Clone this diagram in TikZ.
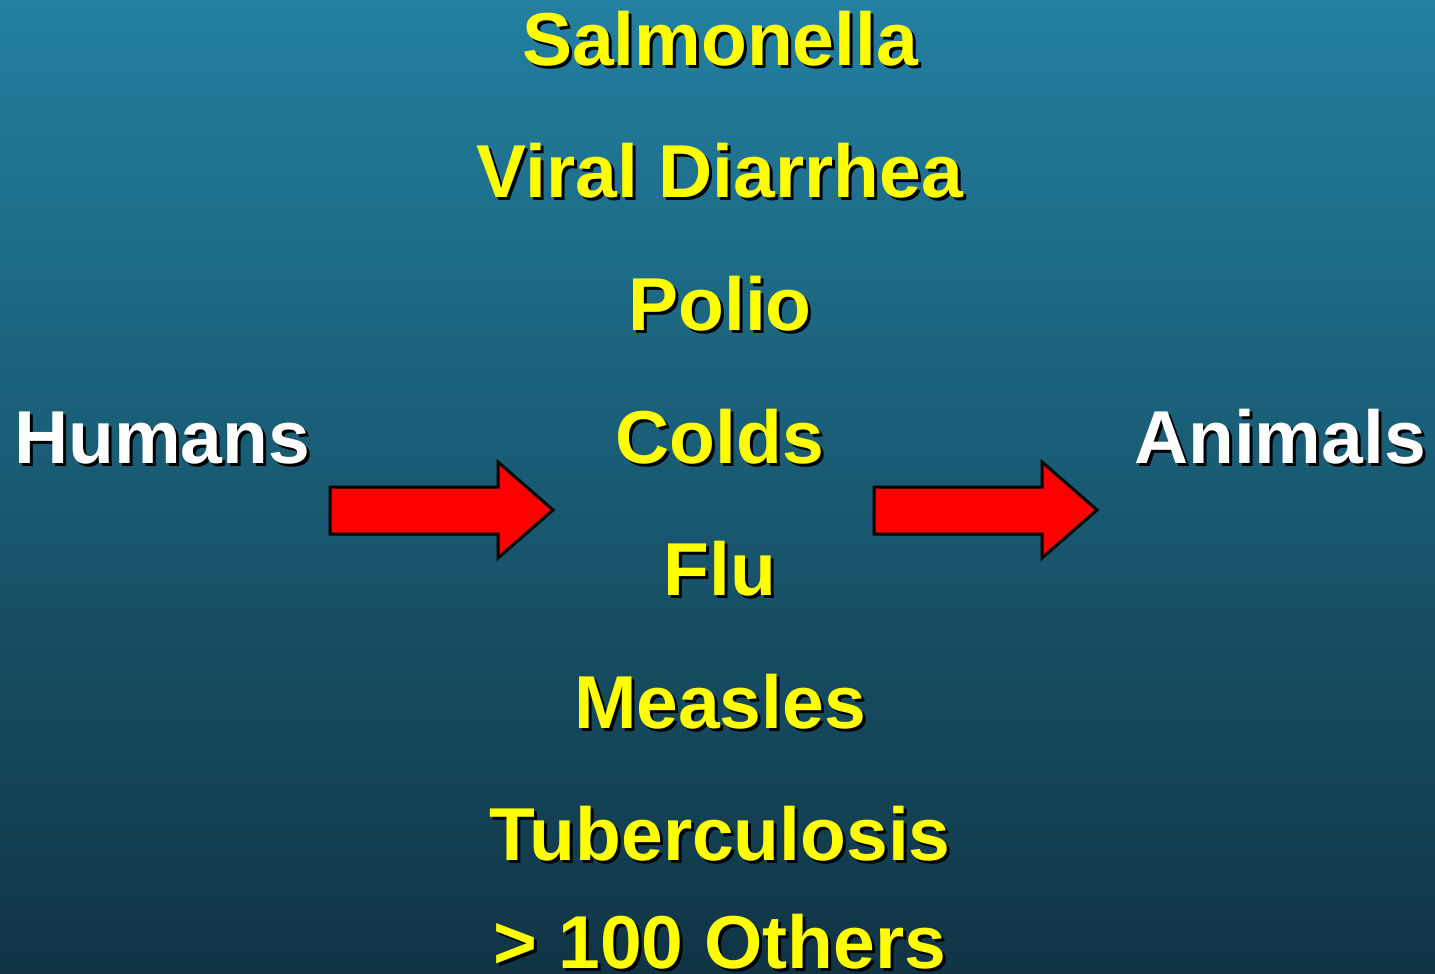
\documentclass[tikz,border=0pt]{standalone}
\usepackage{fontspec}
\setmainfont{Liberation Sans}
\usepackage{xcolor}
\definecolor{bgtop}{RGB}{34, 128, 160}
\definecolor{bgbottom}{RGB}{16, 52, 68}
\definecolor{diseaseyellow}{RGB}{255, 255, 0}
\definecolor{arrowred}{RGB}{255, 0, 0}
% text with a black drop shadow
\newcommand{\shadowed}[1]{\rlap{\hspace{1.5pt}\raisebox{-1.5pt}{\color{black}#1}}#1}
\tikzset{
  label/.style={anchor=base, inner sep=0pt, font=\fontsize{37.5}{40}\selectfont\bfseries},
  disease/.style={label, text=diseaseyellow},
  host/.style={label, text=white},
  blockarrow/.style={fill=arrowred, draw=black, line width=1.5pt, line join=miter}
}

\begin{document}
\begin{tikzpicture}[x=0.5pt, y=-0.5pt]
  % background
  \shade[top color=bgtop, bottom color=bgbottom] (0,0) rectangle (1435,974);
  \useasboundingbox (0,0) rectangle (1435,974);

  % disease list
  \node[disease] (salm)  at (720,66)  {\shadowed{Salmonella}};
  \node[disease] (viral) at (720,198) {\shadowed{Viral Diarrhea}};
  \node[disease] (polio) at (720,330) {\shadowed{Polio}};
  \node[disease] (colds) at (720,463) {\shadowed{Colds}};
  \node[disease] (flu)   at (720,595) {\shadowed{Flu}};
  \node[disease] (meas)  at (720,728) {\shadowed{Measles}};
  \node[disease] (tb)    at (720,860) {\shadowed{Tuberculosis}};
  \node[disease] (other) at (720,968) {\shadowed{> 100 Others}};

  % hosts
  \node[host] (humans)  at (162,463)  {\shadowed{Humans}};
  \node[host] (animals) at (1280,463) {\shadowed{Animals}};

  % red block arrows
  \draw[blockarrow] (330,487) -- (498,487) -- (498,462) -- (553,510)
    -- (498,558) -- (498,534) -- (330,534) -- cycle;
  \draw[blockarrow] (874,487) -- (1042,487) -- (1042,462) -- (1097,510)
    -- (1042,558) -- (1042,534) -- (874,534) -- cycle;
\end{tikzpicture}
\end{document}
